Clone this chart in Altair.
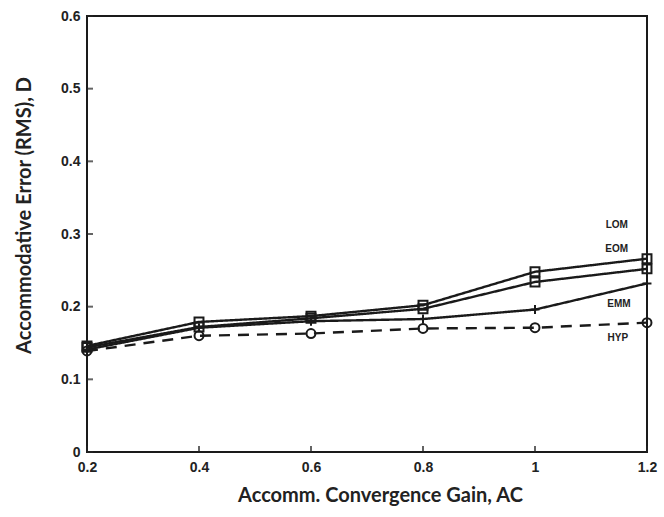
import altair as alt
import pandas as pd

# ---- data ----
gain = [0.2, 0.4, 0.6, 0.8, 1.0, 1.2]
lom = [0.146, 0.179, 0.187, 0.202, 0.248, 0.266]
eom = [0.144, 0.172, 0.184, 0.197, 0.234, 0.252]
emm = [0.141, 0.171, 0.180, 0.183, 0.196, 0.232]
hyp = [0.139, 0.160, 0.163, 0.170, 0.171, 0.178]
series_names = ["LOM", "EOM", "EMM", "HYP"]

x_ticks = [0.2, 0.4, 0.6, 0.8, 1.0, 1.2]
y_ticks = [0.0, 0.1, 0.2, 0.3, 0.4, 0.5, 0.6]

# annotation anchors (data coordinates)
label_x = [1.146, 1.146, 1.15, 1.148]
label_y = [0.313, 0.280, 0.203, 0.157]

rows = []
for name, vals in zip(series_names, [lom, eom, emm, hyp]):
    for g, v in zip(gain, vals):
        rows.append({"series": name, "gain": g, "err": v})
df = pd.DataFrame(rows)
labels_df = pd.DataFrame({"series": series_names, "x": label_x, "y": label_y})
yt_df = pd.DataFrame({"y": y_ticks, "x": [x_ticks[0]] * len(y_ticks)})
xt_df = pd.DataFrame({"x": x_ticks, "y": [y_ticks[0]] * len(x_ticks)})

xscale = alt.Scale(domain=[0.2, 1.2], nice=False, zero=False)
yscale = alt.Scale(domain=[0, 0.6], nice=False)

LABEL_FONT = "Liberation Sans"
TITLE_FONT = "Lato"

xenc = alt.X(
    "gain:Q",
    scale=xscale,
    axis=alt.Axis(
        values=x_ticks, format="~g", title="Accomm. Convergence Gain, AC", grid=False,
        domain=False, ticks=False, labelFont=LABEL_FONT, labelFontSize=14,
        labelFontWeight="bold", labelColor="#222", labelPadding=8,
        labelOverlap=False, labelFlush=False,
        titleFont=TITLE_FONT, titleFontSize=20, titleFontWeight="bold",
        titleColor="#222", titleX=293, titleY=43, titleBaseline="middle",
        titleAlign="center",
    ),
)
yenc = alt.Y(
    "err:Q",
    scale=yscale,
    axis=alt.Axis(
        values=y_ticks, format="~g", title="Accommodative Error (RMS), D", grid=False,
        domain=False, ticks=False, labelFont=LABEL_FONT, labelFontSize=14,
        labelFontWeight="bold", labelColor="#222", labelPadding=7,
        labelOverlap=False, labelFlush=False,
        titleFont=TITLE_FONT, titleFontSize=20, titleFontWeight="bold",
        titleColor="#222", titleX=-63, titleY=199, titleAngle=270,
        titleBaseline="middle", titleAlign="center",
    ),
)

dash_scale = alt.Scale(domain=series_names, range=[[1, 0], [1, 0], [1, 0], [11, 8]])
width_scale = alt.Scale(domain=series_names, range=[2.4, 2.4, 1.6, 2.2])

lines = alt.Chart(df).mark_line(color="#1a1a1a").encode(
    x=xenc,
    y=yenc,
    detail="series:N",
    strokeDash=alt.StrokeDash("series:N", scale=dash_scale, legend=None),
    strokeWidth=alt.StrokeWidth("series:N", scale=width_scale, legend=None),
)

plus_path = "M-1,0L1,0M0,-1L0,1"
shape_scale = alt.Scale(domain=series_names, range=["square", "square", plus_path, "circle"])
size_scale = alt.Scale(domain=series_names, range=[80, 80, 90, 45])

points = alt.Chart(df).mark_point(color="#1a1a1a", strokeWidth=2, filled=False, opacity=1).encode(
    x="gain:Q",
    y="err:Q",
    shape=alt.Shape("series:N", scale=shape_scale, legend=None),
    size=alt.Size("series:N", scale=size_scale, legend=None),
)

labels = alt.Chart(labels_df).mark_text(
    font="Liberation Sans", fontSize=10, fontWeight="bold", color="#222",
    align="center", baseline="middle",
).encode(x="x:Q", y="y:Q", text="series:N")

yticks = alt.Chart(yt_df).mark_tick(
    orient="horizontal", color="#222", size=6, thickness=2, xOffset=3, clip=False
).encode(x="x:Q", y="y:Q")
xticks = alt.Chart(xt_df).mark_tick(
    orient="vertical", color="#222", size=6, thickness=2, yOffset=-3, clip=False
).encode(x="x:Q", y="y:Q")

chart = alt.layer(lines, points, yticks, xticks, labels).properties(
    width=560,
    height=436,
    autosize=alt.AutoSizeParams(type="none"),
    padding={"left": 87, "top": 16, "right": 17, "bottom": 65},
    background="white",
).configure_view(stroke="#1a1a1a", strokeWidth=2)

chart.save("out.html", embed_options={"renderer": "svg", "actions": False})
